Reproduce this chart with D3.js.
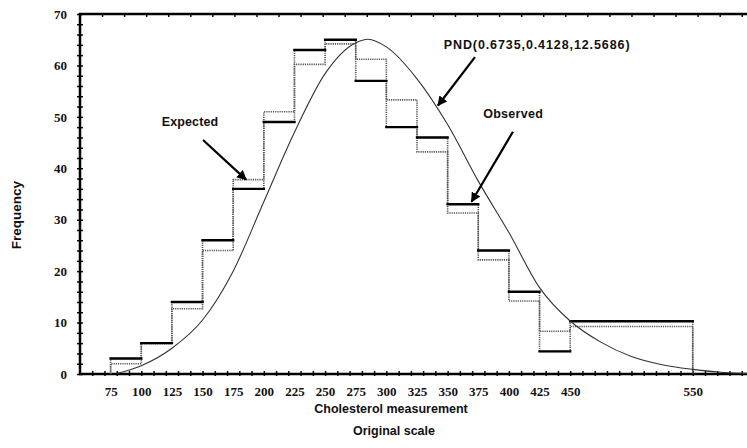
<!DOCTYPE html>
<html>
<head>
<meta charset="utf-8">
<script src="https://cdn.jsdelivr.net/npm/d3@7"></script>
<style>
  html, body { margin: 0; padding: 0; background: #fff; }
  svg { display: block; }
</style>
</head>
<body>
<svg id="chart" width="747" height="448"></svg>
<script>
// Histogram bin edges (cholesterol, original scale) and the two step series
const binEdges = [75, 100, 125, 150, 175, 200, 225, 250, 275, 300, 325, 350, 375, 400, 425, 450, 550];
const observed = [3, 6, 14, 26, 36, 49, 63, 65, 57, 48, 46, 33, 24, 16, 4.4, 10.25];
const expected = [2, 5.9, 12.7, 24, 37.8, 51, 60.2, 64.2, 61.2, 53.3, 43.2, 31.3, 22.2, 14.2, 8.3, 9.25];

// Fitted PND density, scaled to frequency
const curveX = [80, 100, 125, 150, 175, 200, 225, 250, 275, 285, 300, 325, 350, 375, 400, 425, 450, 475, 500, 525, 550, 575, 600];
const curveY = [0.1, 1.6, 5, 10.5, 20, 33.5, 47, 58.4, 64.4, 65.1, 63.6, 57.4, 48.5, 37.5, 27.5, 16.8, 10.3, 6.2, 3.4, 1.8, 0.9, 0.3, 0.1];

// Axis ticks
const xTickLabels = [75, 100, 125, 150, 175, 200, 225, 250, 275, 300, 325, 350, 375, 400, 425, 450, 550];
const yTickLabels = [0, 10, 20, 30, 40, 50, 60, 70];

// Annotations: text and arrows in data units
const annoText = ["Expected", "PND(0.6735,0.4128,12.5686)", "Observed"];
const annoSpacing = [0.1, 0.9, 0.3];
const annoTextPos = [[139.8, 49], [423, 64], [403.5, 50.7]];
const annoArrowFrom = [[150.4, 45.5], [372.3, 61.6], [403.3, 47.1]];
const annoArrowTo = [[185.5, 37.8], [342.1, 52.2], [369.5, 33.5]];

const svg = d3.select("#chart");
const x = d3.scaleLinear().domain([50, 600]).range([80, 754]);
const y = d3.scaleLinear().domain([0, 70]).range([374, 14]);

const serif = "'Liberation Serif', 'Times New Roman', serif";
const sans = "'Liberation Sans', Arial, sans-serif";

// Minor ticks (both sides of the frame lines)
const minorY = d3.range(0, 71, 2);
svg.append("g").attr("transform", `translate(${x(50)},0)`)
  .call(d3.axisLeft(y).tickValues(minorY).tickSize(3).tickFormat(""))
  .call(g => g.select(".domain").remove());
svg.append("g").attr("transform", `translate(${x(50)},0)`)
  .call(d3.axisRight(y).tickValues(minorY).tickSize(3).tickFormat(""))
  .call(g => g.select(".domain").remove());
const minorX = d3.range(60, 601, 10);
svg.append("g").attr("transform", `translate(0,${y(0)})`)
  .call(d3.axisTop(x).tickValues(minorX).tickSize(3).tickFormat(""))
  .call(g => g.select(".domain").remove());
svg.append("g").attr("transform", `translate(0,${y(0)})`)
  .call(d3.axisBottom(x).tickValues(minorX).tickSize(2).tickFormat(""))
  .call(g => g.select(".domain").remove());
const minorTop = d3.range(68, 601, 18);
svg.append("g").attr("transform", `translate(0,${y(70)})`)
  .call(d3.axisBottom(x).tickValues(minorTop).tickSize(3).tickFormat(""))
  .call(g => g.select(".domain").remove());
svg.selectAll(".tick line").attr("stroke", "#111").attr("stroke-width", 1.5);

// Frame lines
svg.append("path")
  .attr("d", `M${x(600)},${y(70)}H${x(50)}V${y(0)}H${x(600)}`)
  .attr("fill", "none").attr("stroke", "#000").attr("stroke-width", 2.5);

// Tick labels
svg.append("g").attr("transform", `translate(0,${y(0)})`)
  .call(d3.axisBottom(x).tickValues(xTickLabels).tickSize(0).tickPadding(13))
  .call(g => g.select(".domain").remove())
  .call(g => g.selectAll("text").attr("font-family", serif).attr("font-weight", "bold")
    .attr("font-size", 13).attr("fill", "#111"));
svg.append("g").attr("transform", `translate(${x(50) - 13},0)`)
  .call(d3.axisLeft(y).tickValues(yTickLabels).tickSize(0).tickPadding(0))
  .call(g => g.select(".domain").remove())
  .call(g => g.selectAll("text").attr("font-family", serif).attr("font-weight", "bold")
    .attr("font-size", 13).attr("fill", "#111"));

// Step outlines (dotted) for both series
const stepLine = d3.line().x(d => x(d[0])).y(d => y(d[1])).curve(d3.curveStepAfter);
function stepPoints(vals) {
  const pts = [[binEdges[0], 0]];
  vals.forEach((v, i) => pts.push([binEdges[i], v]));
  pts.push([binEdges[binEdges.length - 1], vals[vals.length - 1]]);
  pts.push([binEdges[binEdges.length - 1], 0]);
  return pts;
}
[observed, expected].forEach(vals => {
  svg.append("path")
    .attr("d", stepLine(stepPoints(vals)))
    .attr("fill", "none").attr("stroke", "#555").attr("stroke-width", 1.6)
    .attr("stroke-dasharray", "1.2,1");
});

// Observed bin tops (solid)
svg.append("g").selectAll("line").data(observed).join("line")
  .attr("x1", (d, i) => x(binEdges[i]))
  .attr("x2", (d, i) => x(binEdges[i + 1]))
  .attr("y1", d => y(d)).attr("y2", d => y(d))
  .attr("stroke", "#000").attr("stroke-width", 2.4).attr("stroke-linecap", "square");

// PND curve
const curvePts = curveX.map((v, i) => [v, curveY[i]]);
svg.append("path")
  .attr("d", d3.line().x(d => x(d[0])).y(d => y(d[1])).curve(d3.curveMonotoneX)(curvePts))
  .attr("fill", "none").attr("stroke", "#333").attr("stroke-width", 1.1);

// Axis titles
svg.append("text")
  .attr("transform", `translate(21,${(y(0) + y(70)) / 2 + 21}) rotate(-90)`)
  .attr("text-anchor", "middle").attr("font-family", sans).attr("font-weight", "bold")
  .attr("font-size", 13.5).attr("fill", "#111").text("Frequency");
svg.append("text")
  .attr("x", 391).attr("y", 413)
  .attr("text-anchor", "middle").attr("font-family", sans).attr("font-weight", "bold")
  .attr("font-size", 12.5).attr("fill", "#111").text("Cholesterol measurement");
svg.append("text")
  .attr("x", 394).attr("y", 435)
  .attr("text-anchor", "middle").attr("font-family", sans).attr("font-weight", "bold")
  .attr("font-size", 12.5).attr("fill", "#111").text("Original scale");

// Annotations
svg.append("defs").append("marker")
  .attr("id", "arrowhead").attr("viewBox", "0 0 10 10").attr("refX", 9).attr("refY", 5)
  .attr("markerWidth", 4.5).attr("markerHeight", 4.5).attr("orient", "auto")
  .append("path").attr("d", "M0,0L10,5L0,10Z").attr("fill", "#000");
svg.append("g").selectAll("line").data(annoArrowFrom).join("line")
  .attr("x1", d => x(d[0])).attr("y1", d => y(d[1]))
  .attr("x2", (d, i) => x(annoArrowTo[i][0])).attr("y2", (d, i) => y(annoArrowTo[i][1]))
  .attr("stroke", "#000").attr("stroke-width", 2.2).attr("marker-end", "url(#arrowhead)");
svg.append("g").selectAll("text").data(annoText).join("text")
  .attr("x", (d, i) => x(annoTextPos[i][0])).attr("y", (d, i) => y(annoTextPos[i][1]))
  .attr("dy", "0.35em").attr("text-anchor", "middle")
  .attr("letter-spacing", (d, i) => annoSpacing[i])
  .attr("font-family", sans).attr("font-weight", "bold").attr("font-size", 12.5)
  .attr("fill", "#111").text(d => d);
</script>
</body>
</html>
